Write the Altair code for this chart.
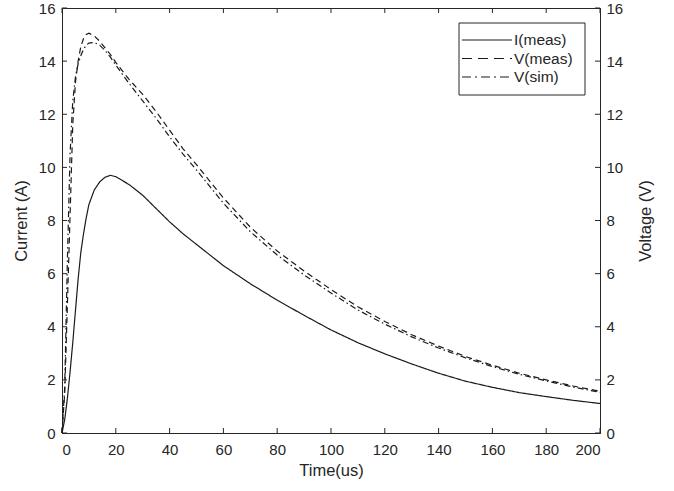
import altair as alt
import pandas as pd

# ---------------- data ----------------
time_i = [0, 1, 2, 3, 4, 5, 6, 7, 8, 9, 10, 12, 14, 16, 18, 20, 25, 30, 35, 40, 45, 50,
          60, 70, 80, 90, 100, 110, 120, 130, 140, 150, 160, 170, 180, 190, 200]
current = [0, 0.5, 1.3, 2.3, 3.4, 4.6, 5.8, 6.8, 7.5, 8.1, 8.6, 9.15, 9.45, 9.63, 9.7, 9.65,
           9.35, 8.95, 8.45, 7.95, 7.5, 7.1, 6.3, 5.62, 5.0, 4.43, 3.88, 3.4, 2.98, 2.6,
           2.25, 1.95, 1.72, 1.52, 1.37, 1.23, 1.11]

time_v = [0, 1, 2, 3, 4, 5, 6, 7, 8, 9, 10, 12, 14, 16, 18, 20, 25, 30, 35, 40, 45, 50,
          60, 70, 80, 90, 100, 110, 120, 130, 140, 150, 160, 170, 180, 190, 200]
v_meas = [0, 1.5, 4.8, 8.2, 11.6, 13.2, 14.0, 14.55, 14.85, 15.0, 15.05, 14.95, 14.75,
          14.5, 14.25, 13.95, 13.3, 12.75, 12.1, 11.4, 10.7, 10.1, 8.85, 7.75, 6.85, 6.1,
          5.4, 4.75, 4.2, 3.7, 3.27, 2.88, 2.55, 2.25, 2.0, 1.77, 1.57]
v_sim = [0, 1.7, 6.5, 10.5, 12.5, 13.4, 13.9, 14.2, 14.45, 14.6, 14.68, 14.7, 14.6, 14.4,
         14.15, 13.85, 13.15, 12.5, 11.85, 11.15, 10.5, 9.9, 8.65, 7.58, 6.7, 5.95, 5.27,
         4.63, 4.1, 3.62, 3.2, 2.83, 2.5, 2.21, 1.96, 1.73, 1.53]

series_names = ["I(meas)", "V(meas)", "V(sim)"]
x_ticks = [0, 20, 40, 60, 80, 100, 120, 140, 160, 180, 200]
y_ticks = [0, 2, 4, 6, 8, 10, 12, 14, 16]

# ---------------- layout / style ----------------
PL, PT = 62, 8
W, H = 538, 425
INK = "#262626"
LINE = "#1a1a1a"
FONT = "Liberation Sans"
DASHES = [[1, 0], [6, 4], [6, 3, 1.5, 3]]
LEGEND_DASHES = [[1, 0], [10, 6], [9, 4, 2, 4]]
TICK = 5

df_i = pd.DataFrame({"t": time_i, "v": current, "s": series_names[0]})
df_v = pd.concat([
    pd.DataFrame({"t": time_v, "v": v_meas, "s": series_names[1]}),
    pd.DataFrame({"t": time_v, "v": v_sim, "s": series_names[2]}),
])
df_xt = pd.DataFrame({"t": x_ticks})
df_yt = pd.DataFrame({"v": y_ticks})

xscale = alt.Scale(domain=[0, 200], nice=False, zero=False)
yscale = alt.Scale(domain=[0, 16], nice=False)
dash_scale = alt.Scale(domain=series_names, range=DASHES)

x_axis = alt.Axis(values=x_ticks, title="Time(us)", ticks=False, grid=False,
                  labelPadding=9, titlePadding=5)
yl_axis = alt.Axis(values=y_ticks, title="Current (A)", orient="left",
                   ticks=False, grid=False, labelPadding=7, titlePadding=9,
                   titleAngle=270)
yr_axis = alt.Axis(values=y_ticks, title="Voltage (V)", orient="right",
                   ticks=False, grid=False, labelPadding=6, titlePadding=31,
                   titleAngle=270)

x_enc = alt.X("t:Q", scale=xscale, axis=x_axis)

current_line = alt.Chart(df_i).mark_line(color=LINE, strokeWidth=1.2).encode(
    x=x_enc,
    y=alt.Y("v:Q", scale=yscale, axis=yl_axis),
    strokeDash=alt.StrokeDash("s:N", scale=dash_scale, legend=None),
)

left_ticks = alt.Chart(df_yt).mark_rule(color=INK, strokeWidth=1).encode(
    y=alt.Y("v:Q", scale=yscale, axis=yl_axis),
    x=alt.value(0), x2=alt.value(TICK),
)
bottom_ticks = alt.Chart(df_xt).mark_rule(color=INK, strokeWidth=1).encode(
    x=x_enc,
    y=alt.value(H), y2=alt.value(H - TICK),
)
top_ticks = alt.Chart(df_xt).mark_rule(color=INK, strokeWidth=1).encode(
    x=x_enc,
    y=alt.value(0), y2=alt.value(TICK),
)

left = alt.layer(current_line, left_ticks, bottom_ticks, top_ticks)

voltage_lines = alt.Chart(df_v).mark_line(color=LINE, strokeWidth=1.2).encode(
    x=x_enc,
    y=alt.Y("v:Q", scale=yscale, axis=yr_axis),
    strokeDash=alt.StrokeDash("s:N", scale=dash_scale, legend=None),
    detail="s:N",
)
right_ticks = alt.Chart(df_yt).mark_rule(color=INK, strokeWidth=1).encode(
    y=alt.Y("v:Q", scale=yscale, axis=yr_axis),
    x=alt.value(W - TICK), x2=alt.value(W),
)
right = alt.layer(voltage_lines, right_ticks)

# ---------------- manual legend ----------------
LX0, LY0, LW, LH = 397, 15, 126, 72
legend_layers = [
    alt.Chart(pd.DataFrame({"a": [0]})).mark_rect(
        fill="white", stroke=INK, strokeWidth=1).encode(
        x=alt.value(LX0), x2=alt.value(LX0 + LW),
        y=alt.value(LY0), y2=alt.value(LY0 + LH))
]
for i, name in enumerate(series_names):
    yy = LY0 + 17 + i * 18.5
    legend_layers.append(
        alt.Chart(pd.DataFrame({"s": [name]})).mark_rule(
            color=LINE, strokeWidth=1.2, strokeDash=LEGEND_DASHES[i]).encode(
            x=alt.value(LX0 + 3), x2=alt.value(LX0 + 53),
            y=alt.value(yy))
    )
    legend_layers.append(
        alt.Chart(pd.DataFrame({"s": [name]})).mark_text(
            align="left", baseline="middle", font=FONT, fontSize=15.5, color=INK).encode(
            x=alt.value(LX0 + 55), y=alt.value(yy), text="s:N")
    )
legend = alt.layer(*legend_layers)

chart = alt.layer(left, right, legend).resolve_scale(
    y="independent", strokeDash="shared"
).properties(
    width=W, height=H,
    autosize=alt.AutoSizeParams(type="none"),
    padding={"left": PL, "top": PT, "right": 674 - PL - W, "bottom": 491 - PT - H},
    background="white",
).configure_view(
    stroke=INK, strokeWidth=1
).configure_axis(
    labelFont=FONT, titleFont=FONT, labelFontSize=15, titleFontSize=16.5,
    labelColor=INK, titleColor=INK, titleFontWeight="normal",
    domainColor=INK, domainWidth=1,
)

chart.save("out.html", embed_options={"renderer": "svg", "actions": False})
